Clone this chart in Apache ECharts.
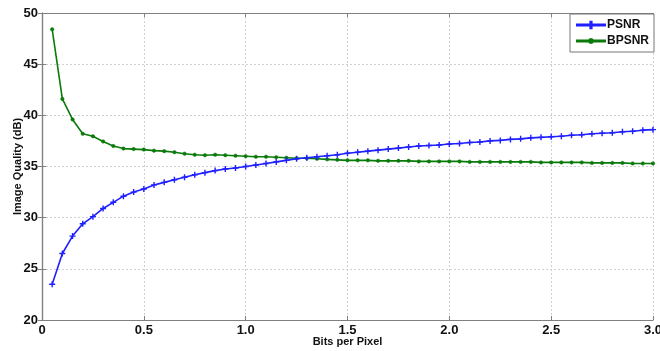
<!DOCTYPE html>
<html>
<head>
<meta charset="utf-8">
<script src="https://cdn.jsdelivr.net/npm/echarts@6/dist/echarts.min.js"></script>
<style>html,body{margin:0;padding:0;background:#fff}#c{width:660px;height:351px}</style>
</head>
<body>
<div id="c"></div>
<script>
const bpp = [0.05,0.10,0.15,0.20,0.25,0.30,0.35,0.40,0.45,0.50,0.55,0.60,0.65,0.70,0.75,0.80,0.85,0.90,0.95,1.00,
1.05,1.10,1.15,1.20,1.25,1.30,1.35,1.40,1.45,1.50,1.55,1.60,1.65,1.70,1.75,1.80,1.85,1.90,1.95,2.00,
2.05,2.10,2.15,2.20,2.25,2.30,2.35,2.40,2.45,2.50,2.55,2.60,2.65,2.70,2.75,2.80,2.85,2.90,2.95,3.00];
const psnr = [23.5,26.5,28.2,29.4,30.1,30.9,31.5,32.1,32.5,32.8,33.2,33.45,33.7,33.95,34.2,34.4,34.6,34.75,34.85,35.0,
35.15,35.3,35.45,35.6,35.75,35.85,35.95,36.05,36.15,36.3,36.4,36.5,36.6,36.7,36.8,36.9,37.0,37.05,37.1,37.2,
37.25,37.35,37.4,37.5,37.55,37.65,37.7,37.8,37.85,37.9,37.95,38.05,38.1,38.2,38.25,38.3,38.4,38.45,38.55,38.6];
const bpsnr = [48.4,41.6,39.6,38.2,37.95,37.45,37.0,36.75,36.7,36.65,36.55,36.5,36.4,36.25,36.15,36.1,36.15,36.1,36.05,36.0,
35.95,35.95,35.9,35.85,35.8,35.8,35.75,35.7,35.65,35.6,35.6,35.6,35.55,35.55,35.55,35.55,35.5,35.5,35.5,35.5,
35.5,35.45,35.45,35.45,35.45,35.45,35.45,35.45,35.4,35.4,35.4,35.4,35.4,35.35,35.35,35.35,35.35,35.3,35.3,35.3];
const seriesNames = ['PSNR','BPSNR'];
const xTitle = 'Bits per Pixel';
const yTitle = 'Image Quality (dB)';

const FONT = "'Liberation Sans Narrow','Liberation Sans',Arial,sans-serif";
const plusPath = 'path://M0,5 L10,5 M5,0 L5,10';
const legendPlus = 'path://M0,3.4L28,3.4L28,4.6L0,4.6Z M13.4,0.8L14.6,0.8L14.6,7.2L13.4,7.2Z';
const legendDot = 'path://M0,3.4L28,3.4L28,4.6L0,4.6Z M16,4L15.4,5.4L14,6L12.6,5.4L12,4L12.6,2.6L14,2L15.4,2.6Z';
const chart = echarts.init(document.getElementById('c'), null, {renderer:'canvas'});
const gridLine = {show:true, lineStyle:{color:'#d0d0d0', type:[2,2], width:1}};
chart.setOption({
  animation:false,
  backgroundColor:'#fff',
  grid:{left:42, right:7, top:13, bottom:31, containLabel:false, outerBoundsMode:'none'},
  legend:{
    right:6, top:14, orient:'vertical', itemGap:4, itemWidth:28, itemHeight:8,
    borderColor:'#777', borderWidth:1, backgroundColor:'#fff', padding:[5,5,5,6],
    textStyle:{fontFamily:FONT, fontWeight:'bold', fontSize:12, color:'#111', padding:[0,0,0,-3]},
    data:[{name:seriesNames[0], icon:legendPlus},{name:seriesNames[1], icon:legendDot}]
  },
  xAxis:[{
    type:'value', min:0, max:3, interval:0.5,
    name:xTitle, nameLocation:'middle', nameGap:16, nameMoveOverlap:false,
    nameTextStyle:{fontFamily:FONT, fontWeight:'bold', fontSize:11, color:'#111'},
    axisLine:{lineStyle:{color:'#808080', width:1.2}},
    axisTick:{inside:true, length:4, lineStyle:{color:'#808080'}},
    axisLabel:{fontFamily:FONT, fontWeight:'bold', fontSize:13, color:'#111', margin:4,
      formatter:v=> v===0 ? '0' : v.toFixed(1)},
    splitLine:gridLine
  },{
    type:'value', min:0, max:3, interval:0.5, position:'top',
    axisLine:{lineStyle:{color:'#808080', width:1.2}},
    axisTick:{inside:true, length:4, lineStyle:{color:'#808080'}},
    axisLabel:{show:false}, splitLine:{show:false}
  }],
  yAxis:[{
    type:'value', min:20, max:50, interval:5,
    name:yTitle, nameLocation:'middle', nameGap:19, nameRotate:90, nameMoveOverlap:false,
    nameTextStyle:{fontFamily:FONT, fontWeight:'bold', fontSize:11, color:'#111'},
    axisLine:{show:true, lineStyle:{color:'#808080', width:1.2}},
    axisTick:{show:true, inside:true, length:4, lineStyle:{color:'#808080'}},
    axisLabel:{fontFamily:FONT, fontWeight:'bold', fontSize:13, color:'#111', margin:4},
    splitLine:gridLine
  },{
    type:'value', min:20, max:50, interval:5, position:'right',
    axisLine:{show:true, lineStyle:{color:'#808080', width:1.2}},
    axisTick:{show:true, inside:true, length:4, lineStyle:{color:'#808080'}},
    axisLabel:{show:false}, splitLine:{show:false}
  }],
  series:[{
    name:seriesNames[0], type:'line', data:bpp.map((x,i)=>[x,psnr[i]]),
    symbol:plusPath, symbolSize:6, showAllSymbol:true,
    lineStyle:{color:'#1f1fff', width:1.6},
    itemStyle:{color:'#1f1fff', borderColor:'#1f1fff', borderWidth:1.4},
    z:3
  },{
    name:seriesNames[1], type:'line', data:bpp.map((x,i)=>[x,bpsnr[i]]),
    symbol:'circle', symbolSize:3.5, showAllSymbol:true,
    lineStyle:{color:'#0a7a0a', width:1.6},
    itemStyle:{color:'#0a7a0a', borderColor:'#0a7a0a', borderWidth:0.5},
    z:2
  }]
});
</script>
</body>
</html>
